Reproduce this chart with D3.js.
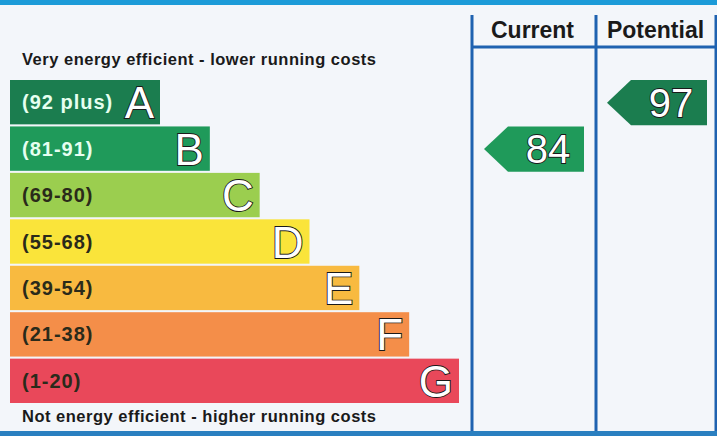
<!DOCTYPE html>
<html><head><meta charset="utf-8">
<script src="https://cdn.jsdelivr.net/npm/d3@7"></script>
<style>body{margin:0;background:#f3f6fa;} svg{display:block;font-family:"Liberation Sans",Arial,sans-serif;}</style>
</head><body>
<script>
const ratings = ["A","B","C","D","E","F","G"];
const ranges = ["(92 plus)","(81-91)","(69-80)","(55-68)","(39-54)","(21-38)","(1-20)"];
const barColors = ["#1b7d4f","#1f9a5a","#9bce4f","#fae43a","#f8ba40","#f48e49","#e9485a"];
const rangeTextColors = ["#e6fff0","#e6fff0","#2a2a1a","#2a2a1a","#2a2a1a","#2a2a1a","#2a2a1a"];
const columns = ["Current","Potential"];
const scores = [84, 97];
const scoreBands = ["B","A"];
const topLabel = "Very energy efficient - lower running costs";
const bottomLabel = "Not energy efficient - higher running costs";

const W = 717, H = 436;
const svg = d3.select("body").append("svg").attr("width", W).attr("height", H);
svg.append("rect").attr("width", W).attr("height", H).attr("fill", "#f3f6fa");
svg.append("rect").attr("x",0).attr("y",0).attr("width",W).attr("height",5).attr("fill","#1c9bd8");
svg.append("rect").attr("x",0).attr("y",431).attr("width",W).attr("height",5).attr("fill","#2a7fc0");

const y = d3.scaleBand().domain(ratings).range([80, 403]).paddingInner(0.045);
const wScale = d3.scaleLinear().domain([0, ratings.length - 1]).range([150, 449]);
const x0 = 10;

const g = svg.append("g");
ratings.forEach((r, i) => {
  const bw = wScale(i);
  g.append("rect").attr("x", x0).attr("y", y(r)).attr("width", bw).attr("height", y.bandwidth()).attr("fill", barColors[i]);
  g.append("text").attr("x", 22).attr("y", y(r) + y.bandwidth()/2 + 7)
    .attr("font-size", 20).attr("font-weight", "bold").attr("letter-spacing", 1)
    .attr("fill", rangeTextColors[i]).text(ranges[i]);
  g.append("text").attr("x", x0 + bw - 6).attr("y", y(r) + y.bandwidth()/2 + 16)
    .attr("text-anchor", "end").attr("font-size", 44).attr("fill", "#ffffff")
    .attr("stroke", "#1a1a1a").attr("stroke-width", 1.8).attr("paint-order","stroke").text(r);
});

svg.append("text").attr("x", 22).attr("y", 65).attr("font-size", 16.5).attr("font-weight","bold").attr("fill","#1a1a1a").attr("textLength", 354).text(topLabel);
svg.append("text").attr("x", 22).attr("y", 422).attr("font-size", 16.5).attr("font-weight","bold").attr("fill","#1a1a1a").attr("textLength", 354).text(bottomLabel);

// columns
const colX = d3.scaleBand().domain(columns).range([472, 718]);
const blue = "#1f62b0";
[472, 596, 716].forEach(xx => {
  svg.append("line").attr("x1", xx).attr("x2", xx).attr("y1", 15).attr("y2", 431).attr("stroke", blue).attr("stroke-width", 3);
});
svg.append("line").attr("x1", 472).attr("x2", W).attr("y1", 47).attr("y2", 47).attr("stroke", blue).attr("stroke-width", 3);
columns.forEach(c => {
  svg.append("text").attr("x", colX(c) + colX.bandwidth()/2 - 1).attr("y", 38).attr("text-anchor","middle")
    .attr("font-size", 23).attr("font-weight","bold").attr("fill","#1a1a1a").text(c);
});

// arrows
scores.forEach((s, i) => {
  const c = columns[i];
  const band = scoreBands[i];
  const bi = ratings.indexOf(band);
  const cx = colX(c);
  const left = cx + 12, right = cx + colX.bandwidth() - 11;
  const top = y(band), h = y.bandwidth() + 1, mid = top + h/2;
  const pts = [[left, mid],[left + 24, top],[right, top],[right, top + h],[left + 24, top + h]];
  svg.append("path").attr("d", d3.line()(pts) + "Z").attr("fill", barColors[bi]);
  svg.append("text").attr("x", (left + 24 + right)/2 + 2).attr("y", mid + 14).attr("text-anchor","middle")
    .attr("font-size", 40).attr("fill", "#ffffff").attr("stroke", "#1a1a1a").attr("stroke-width", 1.8)
    .attr("paint-order","stroke").text(s);
});
</script>
</body></html>
